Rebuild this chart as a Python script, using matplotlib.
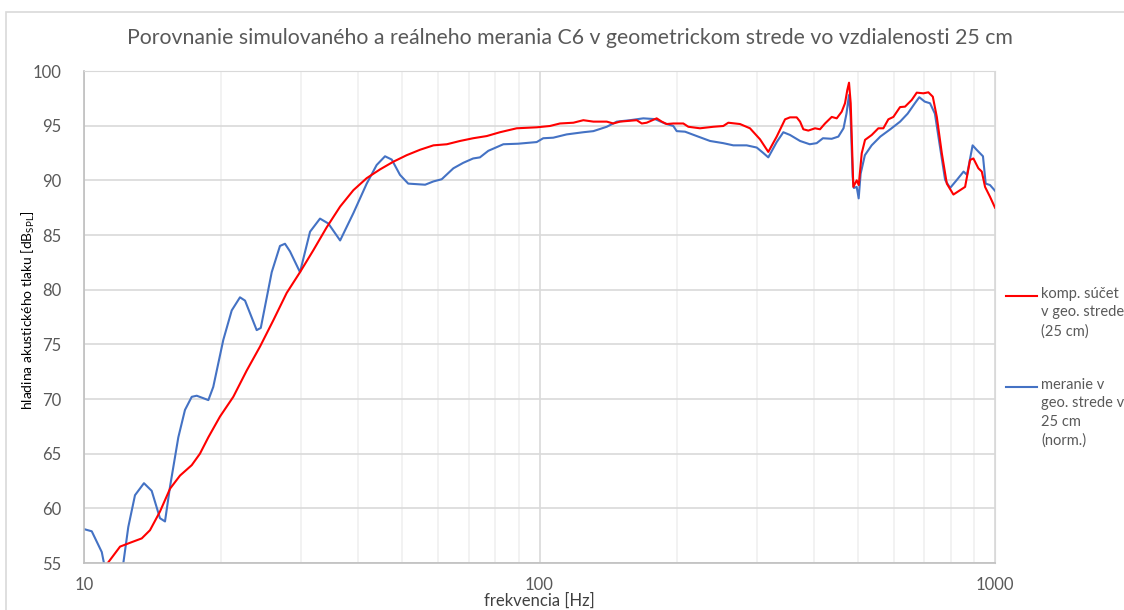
import matplotlib.pyplot as plt
from matplotlib.lines import Line2D
from matplotlib.patches import Rectangle
from matplotlib.ticker import FixedLocator, LogLocator, NullFormatter

plt.rcParams["font.family"] = ["Lato", "DejaVu Sans"]

# simulated composite sum (red)
sim_freq = [
    11.0, 12.0, 12.62, 13.39, 13.96, 14.68, 15.45, 16.25, 17.24, 17.97, 18.75, 19.89,
    21.27, 22.76, 24.35, 26.04, 27.86, 29.8, 31.87, 34.1, 36.5, 39.03, 41.75, 44.66,
    47.75, 51.1, 54.7, 58.5, 62.6, 66.9, 71.5, 76.6, 81.9, 89.1, 98.6, 105.4, 110.9,
    118.7, 124.8, 131.3, 140.5, 145.2, 150.2, 158.0, 163.5, 167.7, 171.9, 180.8, 185.5,
    190.2, 196.7, 206.9, 212.2, 225.1, 240.8, 253.2, 259.7, 275.5, 289.8, 304.9, 317.9,
    331.7, 346.0, 354.8, 367.0, 373.3, 379.5, 389.2, 402.6, 412.9, 423.5, 438.1, 449.3,
    460.8, 468.5, 474.0, 478.1, 482.2, 488.6, 497.1, 502.2, 509.8, 518.4, 536.3, 554.5,
    568.7, 583.3, 598.3, 618.8, 634.6, 656.4, 673.3, 696.2, 714.1, 730.2, 745.2, 764.3,
    783.8, 810.4, 838.2, 859.7, 881.6, 896.5, 919.4, 935.4, 951.0, 975.0, 1000.0,
]
sim_spl = [
    54.4, 56.5, 56.85, 57.25, 58.0, 59.7, 61.8, 63.0, 63.95, 65.0, 66.5, 68.4,
    70.2, 72.6, 74.8, 77.2, 79.7, 81.6, 83.6, 85.7, 87.6, 89.1, 90.2, 91.0,
    91.7, 92.3, 92.8, 93.2, 93.3, 93.6, 93.85, 94.05, 94.4, 94.76, 94.85, 94.97, 95.2,
    95.27, 95.5, 95.37, 95.37, 95.2, 95.37, 95.45, 95.5, 95.2, 95.27, 95.67, 95.37,
    95.15, 95.2, 95.2, 94.9, 94.76, 94.9, 94.97, 95.27, 95.15, 94.76, 93.75, 92.6,
    94.0, 95.58, 95.76, 95.76, 95.37, 94.67, 94.55, 94.76, 94.67, 95.2, 95.8, 95.67,
    96.28, 97.05, 98.27, 98.93, 97.05, 89.4, 90.0, 89.57, 92.47, 93.7, 94.15, 94.76,
    94.76, 95.58, 95.8, 96.7, 96.74, 97.35, 98.02, 97.96, 98.05, 97.65, 95.8, 92.47,
    89.7, 88.7, 89.1, 89.4, 91.86, 92.0, 91.1, 90.8, 89.4, 88.5, 87.5,
]

# measurement, normalised (blue)
meas_freq = [
    10.0, 10.4, 10.94, 11.06, 11.6, 12.2, 12.51, 12.94, 13.54, 14.08, 14.68, 15.06,
    15.45, 16.11, 16.66, 17.24, 17.68, 18.75, 19.22, 20.22, 21.1, 22.0, 22.57, 23.94,
    24.44, 25.83, 26.93, 27.62, 28.33, 29.8, 31.35, 32.97, 34.39, 36.5, 39.03, 41.75,
    43.9, 45.8, 47.38, 49.4, 51.5, 56.1, 58.5, 61.0, 64.7, 68.0, 71.5, 74.0, 77.2,
    83.3, 89.8, 98.6, 101.9, 107.2, 114.7, 124.8, 131.3, 140.5, 147.8, 158.0, 169.0,
    179.3, 188.6, 196.7, 200.1, 208.7, 221.4, 236.8, 253.2, 266.4, 285.0, 299.8, 310.0,
    317.9, 331.7, 343.0, 354.8, 373.3, 392.0, 406.0, 419.0, 438.0, 453.0, 465.0, 472.0,
    478.0, 482.0, 487.0, 490.0, 497.0, 502.0, 507.0, 518.0, 536.0, 560.0, 589.0, 619.0,
    643.0, 667.0, 682.0, 701.0, 720.0, 738.0, 757.0, 777.0, 797.0, 825.0, 853.0, 868.0,
    893.0, 911.0, 941.0, 954.0, 975.0, 1000.0,
]
meas_spl = [
    58.1, 57.9, 56.0, 55.0, 52.5, 55.0, 58.3, 61.2, 62.3, 61.6, 59.1, 58.8,
    62.0, 66.5, 69.0, 70.2, 70.3, 69.9, 71.1, 75.4, 78.1, 79.3, 79.0, 76.3,
    76.5, 81.6, 84.0, 84.2, 83.5, 81.6, 85.3, 86.5, 86.05, 84.5, 87.0, 89.7,
    91.4, 92.2, 91.9, 90.5, 89.7, 89.6, 89.9, 90.1, 91.1, 91.6, 92.0, 92.1, 92.7,
    93.3, 93.35, 93.5, 93.85, 93.9, 94.2, 94.4, 94.5, 94.9, 95.37, 95.5, 95.67,
    95.6, 95.2, 94.97, 94.5, 94.45, 94.05, 93.6, 93.4, 93.2, 93.2, 93.0, 92.5,
    92.1, 93.5, 94.4, 94.15, 93.6, 93.3, 93.4, 93.85, 93.8, 94.0, 94.76, 96.1,
    97.8, 95.8, 90.3, 89.3, 89.4, 88.35, 90.6, 92.3, 93.2, 94.0, 94.67, 95.37,
    96.1, 97.05, 97.6, 97.2, 97.05, 96.1, 93.1, 90.05, 89.3, 90.05, 90.8, 90.5,
    93.2, 92.8, 92.2, 89.7, 89.57, 89.05,
]

x_ticks = [10, 100, 1000]
x_tick_labels = ["10", "100", "1000"]
y_ticks = [55, 60, 65, 70, 75, 80, 85, 90, 95, 100]

title = "Porovnanie simulovaného a reálneho merania C6 v geometrickom strede vo vzdialenosti 25 cm"
sim_label = "komp. súčet\nv geo. strede\n(25 cm)"
meas_label = "meranie v\ngeo. strede v\n25 cm\n(norm.)"

RED = "#ff0000"
BLUE = "#4472c4"
TXT = "#595959"

fig = plt.figure(figsize=(11.24, 6.10), dpi=100)
ax = fig.add_axes([84 / 1124, 1 - 563 / 610, (995 - 84) / 1124, (563 - 71) / 610])

ax.plot(meas_freq, meas_spl, color=BLUE, lw=1.5, solid_joinstyle="round")
ax.plot(sim_freq, sim_spl, color=RED, lw=1.5, solid_joinstyle="round")

ax.set_xscale("log")
ax.set_xlim(10, 1000)
ax.set_ylim(55, 100)
ax.xaxis.set_major_locator(FixedLocator(x_ticks))
ax.set_xticklabels(x_tick_labels)
ax.xaxis.set_minor_locator(LogLocator(base=10, subs=range(2, 10)))
ax.xaxis.set_minor_formatter(NullFormatter())
ax.set_yticks(y_ticks)

ax.grid(which="major", color="#d9d9d9", lw=1.2)
ax.grid(which="minor", axis="x", color="#f0f0f0", lw=1.2)
ax.set_axisbelow(True)
for side in ["top", "right"]:
    ax.spines[side].set_color("#d9d9d9")
for side in ["left", "bottom"]:
    ax.spines[side].set_color("#bfbfbf")
    ax.spines[side].set_linewidth(1.2)
ax.tick_params(which="both", length=0, labelsize=12, colors=TXT)
ax.tick_params(axis="y", pad=16)
ax.tick_params(axis="x", pad=10)

ax.set_xlabel("frekvencia [Hz]", fontsize=12, color="#404040", labelpad=0)
ax.set_ylabel(r"hladina akustického tlaku [dB$_\mathregular{SPL}$]", fontsize=10,
              color="#000000")
ax.yaxis.set_label_coords((37 - 84) / 911, (563 - 310) / 492)
fig.text(570 / 1124, 1 - 38 / 610, title, fontsize=15.3,
         color=TXT, ha="center", va="center")

# legend drawn by hand, handle next to the first line of each entry
for label, color, y0 in [(sim_label, RED, 296), (meas_label, BLUE, 387)]:
    fig.add_artist(Line2D([1006 / 1124, 1037 / 1124], [1 - y0 / 610] * 2, color=color, lw=1.5))
    fig.text(1041 / 1124, 1 - (y0 - 9) / 610, label, fontsize=10.5, color=TXT,
             ha="left", va="top", linespacing=1.4)

# chart area border
fig.add_artist(Rectangle((6 / 1124, -0.1), 1.2, 1 - 12 / 610 + 0.1, fill=False,
                         ec="#d9d9d9", lw=1.2, transform=fig.transFigure))

fig.savefig("out.png", dpi=100)
